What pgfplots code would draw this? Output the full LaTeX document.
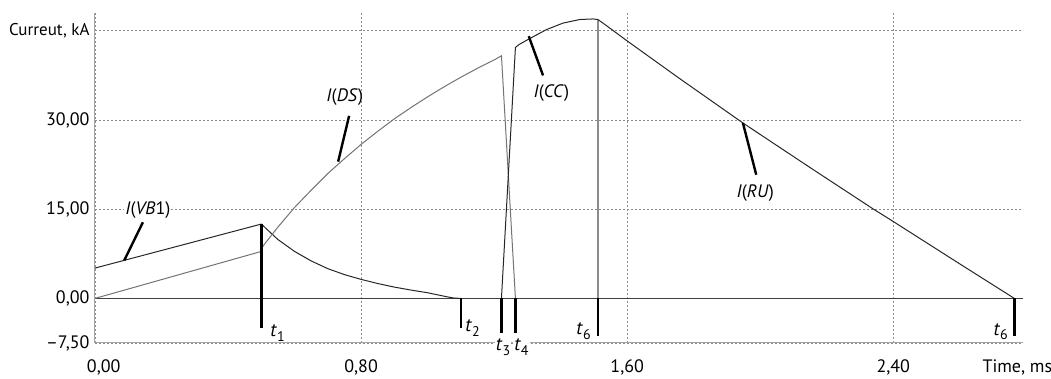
\documentclass[border=0pt]{standalone}
\usepackage{fontspec}
\setmainfont{PT Sans}
\usepackage{pgfplots}
\pgfplotsset{compat=1.18}
\usetikzlibrary{calc}
\newcommand\tl[1]{{\fontsize{19}{20}\selectfont\textit{t}}\raisebox{-0.55ex}{\fontsize{14}{14}\selectfont #1}}
\begin{document}
\begin{tikzpicture}
\begin{axis}[
  scale only axis, width=928pt, height=330pt,
  xmin=0, xmax=2.79, ymin=-7.5, ymax=48,
  axis lines=left,
  axis line style={-, draw=black!35, line width=1pt},
  xtick={0,0.8,1.6,2.4},
  xticklabels={\makebox[0pt][l]{\hspace*{-8pt}0,00},{0,80},{1,60},{2,40}},
  extra x ticks={2.773},
  extra x tick labels={Time{,} ms},
  extra x tick style={grid=none},
  ytick={-7.5,0,15,30,45},
  yticklabels={{–7,50},{0,00},{15,00},{30,00},{\fontsize{17}{21}\selectfont Curreut, kA}},
  major tick length=0pt,
  xmajorgrids, ymajorgrids,
  major grid style={draw=black!45, dash pattern=on 2pt off 2pt, line width=0.8pt},
  tick label style={font=\fontsize{18}{21}\selectfont},
  yticklabel style={xshift=-2pt},
  xticklabel style={yshift=-13pt},
  clip=false,
]
% zero line
\addplot[black!75, line width=1pt] coordinates {(0,0) (2.79,0)};
% I(VB1) and its decay
\addplot[black!85, line width=1pt] coordinates {
 (0,5.1) (0.5,12.5) (0.55,9.9) (0.6,7.9) (0.65,6.3) (0.7,5.0) (0.75,4.0)
 (0.8,3.2) (0.85,2.5) (0.9,1.9) (0.95,1.4) (1.0,0.95) (1.03,0.6) (1.06,0.25)
 (1.08,0.05) (1.1,0)};
% I(DS)
\addplot[black!55, line width=1pt] coordinates {
 (0,0) (0.5,7.9) (0.505,8.8) (0.55,12.0) (0.6,15.3) (0.65,18.2) (0.7,21.0)
 (0.75,23.5) (0.8,25.9) (0.85,28.1) (0.9,30.2) (0.95,32.1) (1.0,33.9)
 (1.05,35.6) (1.1,37.2) (1.15,38.7) (1.2,40.1) (1.222,40.8) (1.264,0)};
% I(CC)
\addplot[black!85, line width=1pt] coordinates {
 (1.222,0) (1.264,42.2) (1.275,42.7) (1.307,43.7) (1.357,45.2) (1.407,46.3)
 (1.457,46.9) (1.497,47.0) (1.512,46.9)};
\addplot[black!45, line width=1.4pt] coordinates {(1.512,46.9) (1.512,0)};
% I(RU)
\addplot[black!85, line width=1pt] coordinates {
 (1.512,46.9) (1.537,45.9) (1.6,43.3) (1.757,37.0) (1.948,29.5) (2.15,22.0)
 (2.338,15.1) (2.398,13.0) (2.6,5.8) (2.764,0)};
% time markers
\addplot[black, line width=2.6pt] coordinates {(0.5,12.5) (0.5,-4.9)};
\addplot[black, line width=2.6pt] coordinates {(1.1,0) (1.1,-4.9)};
\addplot[black, line width=2.6pt] coordinates {(1.222,0) (1.222,-5.8)};
\addplot[black, line width=2.6pt] coordinates {(1.264,0) (1.264,-5.8)};
\addplot[black, line width=2.6pt] coordinates {(1.512,0) (1.512,-6.3)};
\addplot[black, line width=2.6pt] coordinates {(2.764,0) (2.764,-6.3)};
% label pointers
\addplot[black, line width=2.4pt] coordinates {(0.144,12.8) (0.088,6.4)};
\addplot[black, line width=2.4pt] coordinates {(0.764,30.7) (0.731,23.0)};
\addplot[black, line width=2.4pt] coordinates {(1.347,37.5) (1.304,44.1)};
\addplot[black, line width=2.4pt] coordinates {(1.988,20.8) (1.948,29.5)};
% labels
\begin{scope}[every node/.style={font=\fontsize{18}{21}\selectfont, inner sep=1pt}]
\node[fill=white] at (axis cs:0.159,14.9) {\textit{I}(\textit{VB}1)};
\node at (axis cs:0.751,33.8) {\textit{I}(\textit{DS})};
\node at (axis cs:1.372,34.5) {\textit{I}(\textit{CC})};
\node at (axis cs:1.985,17.7) {\textit{I}(\textit{RU})};
\node at (axis cs:0.549,-5.9) {\tl{1}};
\node at (axis cs:1.135,-5.0) {\tl{2}};
\node[fill=white] at (axis cs:1.227,-8.2) {\tl{3}};
\node[fill=white] at (axis cs:1.282,-8.2) {\tl{4}};
\node at (axis cs:1.469,-5.5) {\tl{6}};
\node at (axis cs:2.723,-5.6) {\tl{6}};
\end{scope}
\end{axis}
\coordinate (A) at ($(current axis.south west)+(-95pt,-36pt)$);
\coordinate (B) at ($(current axis.north east)+(28pt,13pt)$);
\pgfresetboundingbox
\path[use as bounding box] (A) rectangle (B);
\end{tikzpicture}
\end{document}
